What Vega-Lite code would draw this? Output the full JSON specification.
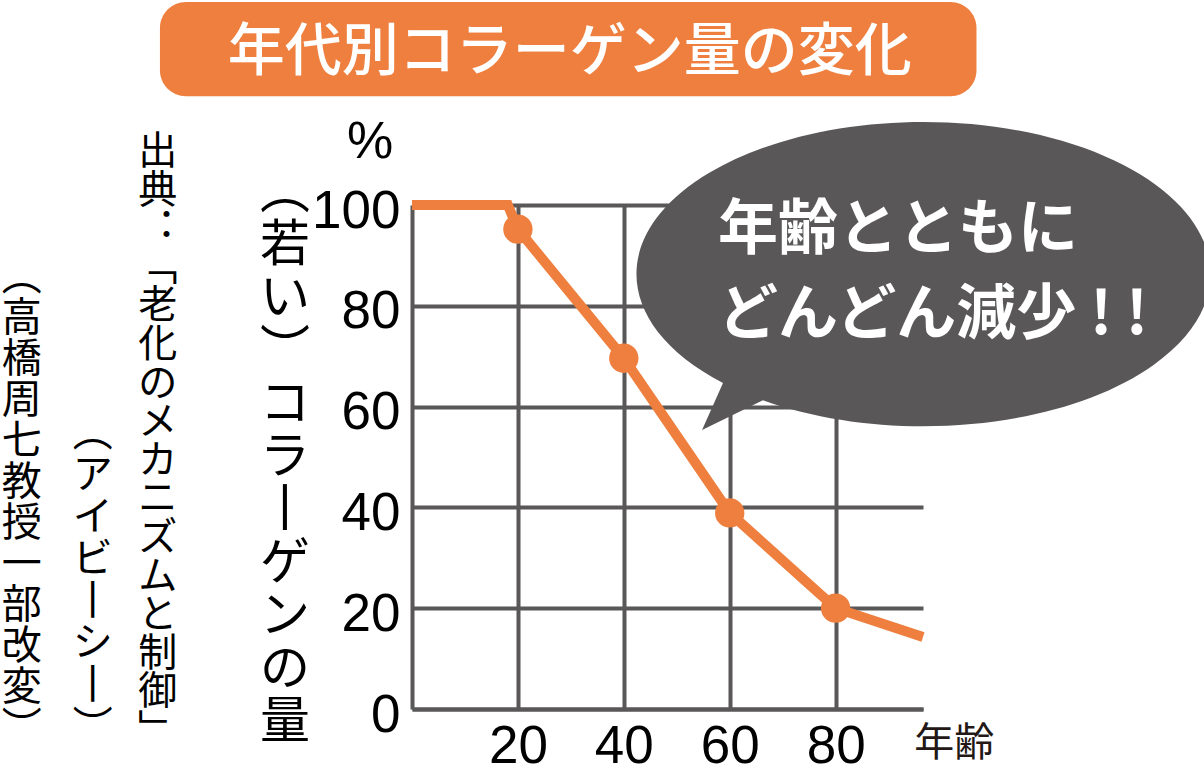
{
  "$schema": "https://vega.github.io/schema/vega-lite/v6.json",
  "width": 511,
  "height": 504,
  "autosize": "none",
  "padding": {"left": 412, "top": 205, "right": 281, "bottom": 73},
  "background": "white",
  "config": {"view": {"stroke": null}, "font": "Liberation Sans"},
  "datasets": {
    "curve": [
      {"age": 0, "collagen": 100},
      {"age": 18.1, "collagen": 100},
      {"age": 20, "collagen": 95.2},
      {"age": 40, "collagen": 69.6},
      {"age": 60, "collagen": 38.9},
      {"age": 80, "collagen": 20},
      {"age": 96.5, "collagen": 14.3}
    ],
    "marked": [
      {"age": 20, "collagen": 95.2},
      {"age": 40, "collagen": 69.6},
      {"age": 60, "collagen": 38.9},
      {"age": 80, "collagen": 20}
    ],
    "labels": [
      {"title": "年代別コラーゲン量の変化", "line1": "年齢とともに", "line2": "どんどん減少 ! !", "unitY": "%", "unitX": "年齢"}
    ]
  },
  "layer": [
    {
      "data": {"name": "curve"},
      "mark": {"type": "line", "color": "#EE7F3E", "strokeWidth": 10, "strokeCap": "butt", "strokeJoin": "miter"},
      "encoding": {
        "x": {"field": "age", "type": "quantitative",
          "scale": {"domain": [0, 96.5], "nice": false, "zero": false},
          "axis": {"title": null, "values": [20, 40, 60, 80], "grid": true, "gridColor": "#595757", "gridWidth": 4, "gridOpacity": 1,
            "domain": true, "domainColor": "#595757", "domainWidth": 4, "ticks": false, "tickSize": 0,
            "labelFont": "Liberation Sans", "labelFontSize": 53, "labelColor": "#000000", "labelPadding": 11}},
        "y": {"field": "collagen", "type": "quantitative",
          "scale": {"domain": [0, 100], "nice": false, "zero": false},
          "axis": {"title": null, "values": [0, 20, 40, 60, 80, 100], "grid": true, "gridColor": "#595757", "gridWidth": 4, "gridOpacity": 1,
            "domain": true, "domainColor": "#595757", "domainWidth": 4, "ticks": false, "tickSize": 0,
            "labelFont": "Liberation Sans", "labelFontSize": 53, "labelColor": "#000000", "labelPadding": 12, "labelOffset": 6}}
      }
    },
    {
      "data": {"name": "marked"},
      "mark": {"type": "point", "filled": true, "opacity": 1, "color": "#EE7F3E", "size": 860},
      "encoding": {
        "x": {"field": "age", "type": "quantitative"},
        "y": {"field": "collagen", "type": "quantitative"}
      }
    },
    {
      "data": {"name": "labels"},
      "mark": {"type": "point", "filled": true, "opacity": 1, "color": "#595757", "strokeWidth": 0, "size": 329476,
        "shape": "M -0.683 0.383 A 1 0.53 0 1 1 -0.544 0.443 L -0.756 0.547 Z"},
      "encoding": {"x": {"datum": 95.75}, "y": {"datum": 86.5}}
    },
    {
      "data": {"name": "labels"},
      "mark": {"type": "text", "font": "Noto Sans CJK JP", "fontWeight": "bold", "fontSize": 60, "color": "#ffffff", "align": "left", "baseline": "middle"},
      "encoding": {"x": {"datum": 57.8}, "y": {"datum": 94.8}, "text": {"field": "line1"}}
    },
    {
      "data": {"name": "labels"},
      "mark": {"type": "text", "font": "Noto Sans CJK JP", "fontWeight": "bold", "fontSize": 60, "color": "#ffffff", "align": "left", "baseline": "middle"},
      "encoding": {"x": {"datum": 57.8}, "y": {"datum": 78.0}, "text": {"field": "line2"}}
    },
    {
      "data": {"name": "labels"},
      "mark": {"type": "rect", "color": "#EE7F3E", "cornerRadius": 26},
      "encoding": {"x": {"datum": -47.6}, "x2": {"datum": 106.6}, "y": {"datum": 140.3}, "y2": {"datum": 121.6}}
    },
    {
      "data": {"name": "labels"},
      "mark": {"type": "text", "font": "Noto Sans CJK JP", "fontWeight": 500, "fontSize": 57, "color": "#ffffff", "align": "center", "baseline": "middle"},
      "encoding": {"x": {"datum": 29.8}, "y": {"datum": 130.2}, "text": {"field": "title"}}
    },
    {
      "data": {"name": "labels"},
      "mark": {"type": "text", "font": "Liberation Sans", "fontSize": 52, "color": "#000000", "align": "center", "baseline": "middle"},
      "encoding": {"x": {"datum": -7.9}, "y": {"datum": 112.5}, "text": {"field": "unitY"}}
    },
    {
      "data": {"name": "labels"},
      "mark": {"type": "text", "font": "Noto Sans CJK JP", "fontSize": 40, "color": "#231815", "align": "center", "baseline": "middle"},
      "encoding": {"x": {"datum": 102.4}, "y": {"datum": -6.9}, "text": {"field": "unitX"}}
    },
    {
      "data": {"name": "labels"},
      "mark": {"type": "text", "font": "Noto Sans CJK JP", "fontSize": 50, "lineHeight": 53, "color": "#000000", "align": "center", "baseline": "top"},
      "encoding": {"x": {"datum": -24.0}, "y": {"datum": 107.3},
        "text": {"value": ["︵", "若", "い", "︶", "コ", "ラ", "丨", "ゲ", "ン", "の", "量"]}}
    },
    {
      "data": {"name": "labels"},
      "mark": {"type": "text", "font": "Noto Sans CJK JP", "fontSize": 39, "lineHeight": 38.6, "color": "#000000", "align": "center", "baseline": "top"},
      "encoding": {"x": {"datum": -48.0}, "y": {"datum": 114.3},
        "text": {"value": ["出", "典", "︓", "﹁", "老", "化", "の", "メ", "カ", "ニ", "ズ", "ム", "と", "制", "御", "﹂"]}}
    },
    {
      "data": {"name": "labels"},
      "mark": {"type": "text", "font": "Noto Sans CJK JP", "fontSize": 40, "lineHeight": 42, "color": "#000000", "align": "center", "baseline": "top"},
      "encoding": {"x": {"datum": -60.3}, "y": {"datum": 58.5},
        "text": {"value": ["︵", "ア", "イ", "ビ", "丨", "シ", "丨", "︶"]}}
    },
    {
      "data": {"name": "labels"},
      "mark": {"type": "text", "font": "Noto Sans CJK JP", "fontSize": 40, "lineHeight": 41, "color": "#000000", "align": "center", "baseline": "top"},
      "encoding": {"x": {"datum": -73.7}, "y": {"datum": 89.5},
        "text": {"value": ["︵", "高", "橋", "周", "七", "教", "授", "一", "部", "改", "変", "︶"]}}
    }
  ]
}
